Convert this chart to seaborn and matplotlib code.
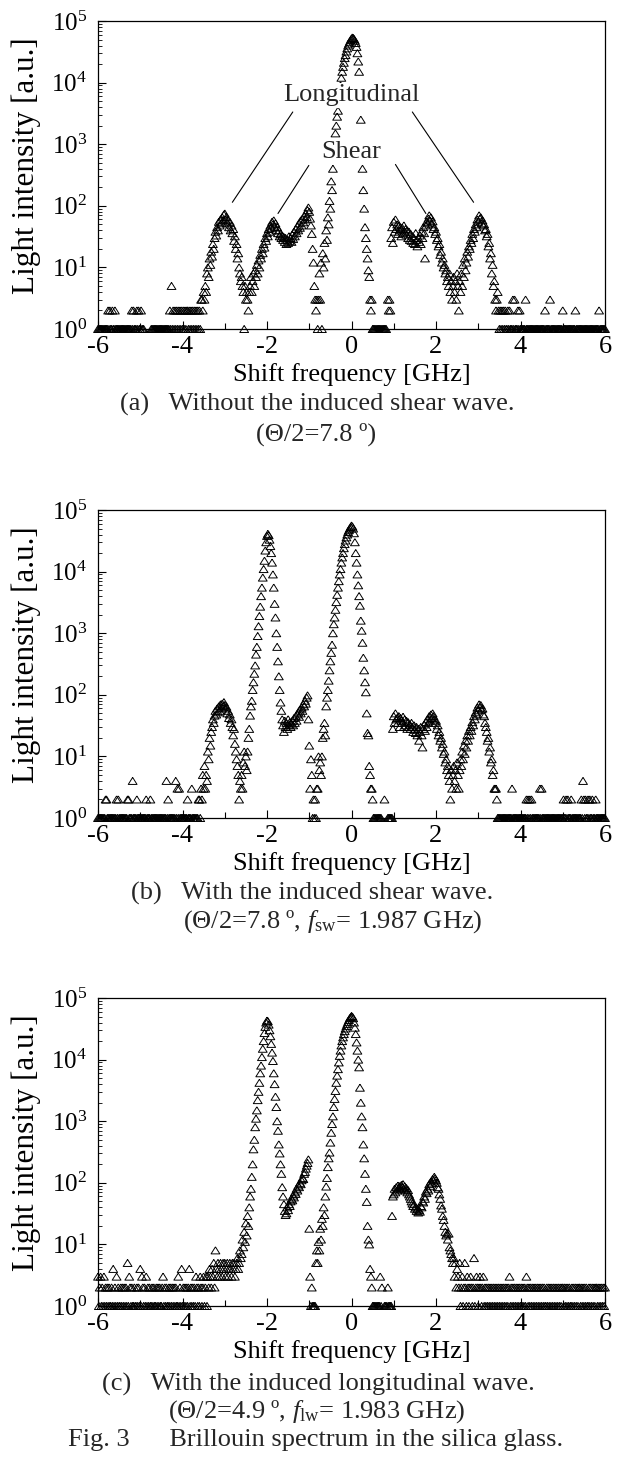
import numpy as np
import pandas as pd
import matplotlib
matplotlib.use("Agg")
import matplotlib.pyplot as plt
import seaborn as sns
from matplotlib.ticker import LogLocator, MultipleLocator, NullFormatter

sns.set_theme(style="ticks")
plt.rcParams['font.family'] = ['Liberation Serif', 'DejaVu Serif']
plt.rcParams['mathtext.fontset'] = 'custom'
plt.rcParams['mathtext.rm'] = 'Liberation Serif'
plt.rcParams['mathtext.it'] = 'Liberation Serif:italic'
plt.rcParams['mathtext.bf'] = 'Liberation Serif:bold'
plt.rcParams['axes.unicode_minus'] = False

# ---------------- data ----------------
FREQ_STEP = 0.02  # spectrometer frequency step [GHz]
shift_ghz = np.round(np.arange(-6.0, 6.0 + FREQ_STEP / 2, FREQ_STEP), 2)

# (a) without the induced shear wave
intensity_a = [
    1,1,1,1,1,1,1,1,1,1, 1,1,2,1,2,1,1,2,1,1, 2,1,1,1,1,1,1,1,1,1, 1,1,1,1,1,1,1,1,1,1,
    2,1,2,1,1,1,2,1,2,1, 1,2,1,1,1,0,0,0,0,0, 0,0,0,1,1,1,1,1,1,1, 1,1,1,1,1,1,1,1,1,1,
    1,1,1,1,1,2,1,5,1,2, 1,2,1,2,1,2,1,2,1,2, 1,2,1,2,1,2,2,1,2,1, 2,1,2,1,2,1,2,1,2,1,
    2,1,3,3,2,4,3,5,4,8, 10,7,14,11,18,15,24,20,30,38, 33,45,40,55,48,60,52,65,58,72,
    75,60,66,52,58,45,55,40,48,36, 42,27,32,20,24,14,17,10,8,6, 7,5,4,1,5,3,4,3,2,4,
    5,7,4,6,8,5,9,7,11,8, 13,10,16,14,20,17,24,21,30,27, 36,32,42,38,48,44,55,50,58,46,
    52,40,45,36,40,32,35,30,33,28, 31,26,30,24,28,25,32,27,30,26, 34,29,38,32,42,36,46,40,52,44,
    58,48,62,54,68,60,75,66,85,94, 80,62,48,35,20,12,5,3,2,3, 1,3,8,3,12,1,17,10,25,14,
    40,28,65,50,120,90,250,180,400,600,
    900,1500,2000,2800,3500,5000,7000,9000,12000,15000,
    18000,21000,25000,28000,32000,36000,40000,43000,46000,49000,
    52000,54000,53000,51000,48000,44000,38000,30000,22000,15000,
    6000,2500,1000,400,180,90,45,30,20,14,
    9,7,3,2,3,1,1,1,1,1, 1,1,1,1,1,1,1,1,1,1, 1,1,0,3,2,3,2,30,45,25,
    55,38,60,42,50,35,48,40,45,32, 44,36,48,38,42,34,40,30,38,28, 35,27,32,25,30,24,36,28,22,30,
    26,33,24,38,30,45,36,14,48,55, 52,62,70,58,65,50,56,42,45,35, 38,28,30,22,24,16,18,12,14,10,
    11,8,9,6,7,5,8,4,6,3, 5,7,4,6,3,8,5,2,6,4, 8,5,11,7,14,9,12,18,15,22,
    20,28,25,35,30,42,38,50,45,60, 55,70,62,65,52,58,48,50,40,42, 32,35,22,25,14,17,8,11,5,6,
    3,2,3,4,2,1,2,1,2,1, 2,1,2,1,1,2,1,2,1,1, 1,3,1,3,1,1,1,2,1,2,
    1,1,1,1,1,1,3,1,1,1, 1,1,1,1,1,1,1,1,1,1, 1,1,1,1,1,1,1,1,1,2,
    1,1,1,1,1,3,1,1,1,1, 1,1,1,1,1,1,1,1,1,1, 2,1,1,1,1,1,1,1,1,1,
    1,1,1,1,1,2,1,1,1,1, 1,1,1,1,1,1,1,1,1,1, 1,1,1,1,1,1,1,1,1,1,
    1,1,1,2,1,1,1,1,1,1, 1,
]

# (b) with the induced shear wave
intensity_b = [
    1,1,1,1,1,1,1,1,1,2, 2,1,1,1,1,1,1,1,1,1, 1,1,2,1,2,1,1,1,1,1, 1,1,1,1,1,2,2,1,1,1,
    1,4,1,1,1,1,2,1,1,1, 1,1,1,1,1,1,1,2,1,1, 1,1,2,1,1,1,1,1,1,1, 1,1,1,1,1,1,1,1,1,1,
    1,4,1,2,1,1,1,1,1,1, 1,1,4,1,3,1,3,1,1,1, 1,1,1,1,1,1,2,1,1,1, 1,3,1,1,1,1,1,1,1,2,
    2,1,3,2,5,3,7,3,5,4, 12,9,20,15,25,30,40,35,46,55, 48,60,52,65,55,70,62,72,66,76,
    68,60,64,50,55,42,48,35,40,30, 22,28,16,12,9,7,5,2,4,3, 5,3,8,12,7,10,6,12,20,28,
    46,65,80,120,160,220,300,450,600,900,
    1300,1900,2700,4000,5500,8000,11000,15000,22000,30000,
    38000,41000,39000,33000,26000,20000,14000,9000,5500,3000,
    1800,1000,600,350,200,120,75,55,40,32,
    25,38,30,35,28,40,32,36,30,34, 38,32,42,35,45,38,48,52,44,58, 50,62,55,70,65,80,72,90,98,40,
    15,3,9,5,1,2,1,2,1,3, 3,10,6,8,5,10,20,28,35,22,
    65,90,120,170,250,350,480,650,1000,1400,
    1800,2400,3200,4200,5500,7000,9000,11000,14000,17000,
    20000,24000,28000,32000,36000,40000,44000,47000,50000,53000,
    56000,54000,50000,42000,30000,20000,14000,9000,6000,4000,
    2800,1600,1100,700,400,250,160,110,50,24,
    22,7,5,3,3,2,1,1,1,1, 1,1,1,1,1,1,0,0,0,2, 0,0,0,1,1,1,1,1,1,28,
    45,35,50,40,42,35,45,30,42,38, 35,44,30,40,32,38,28,36,30,33, 28,35,30,25,32,27,24,30,22,28,
    18,25,30,22,14,28,33,26,36,30, 40,35,45,38,48,42,50,45,40,35, 38,28,32,22,25,18,20,14,16,11,
    12,8,9,6,7,5,4,2,6,3, 5,7,4,6,3,8,5,3,6,9, 7,12,9,15,11,18,14,22,18,26,
    22,30,26,36,32,45,40,52,48,62, 56,70,62,68,58,60,48,45,35,30, 25,18,20,12,14,8,9,5,6,3,
    3,3,2,1,1,1,1,1,1,1, 1,1,1,1,1,1,1,1,1,1, 3,1,1,1,1,1,1,1,1,1,
    1,1,1,1,1,1,1,2,1,2, 1,2,1,2,1,1,1,1,1,1, 1,1,1,3,1,3,1,1,1,1,
    1,1,1,1,1,1,1,1,1,1, 1,1,1,1,1,1,1,1,1,1, 1,2,1,1,2,1,2,1,1,1,
    2,1,1,1,1,1,1,1,1,1, 1,1,2,1,4,2,1,2,1,1, 2,1,2,1,1,2,1,1,1,2,
    1,1,1,1,1,1,1,1,1,1, 1,
]

# (c) with the induced longitudinal wave
intensity_c = [
    3,1,2,3,1,2,1,3,1,2, 1,2,1,2,1,1,2,1,4,1, 2,1,3,1,2,1,1,2,1,2, 1,2,1,2,1,5,1,3,2,1,
    2,1,1,2,1,1,2,1,2,1, 4,1,3,2,1,2,1,3,1,2, 1,2,1,1,2,1,2,1,1,2, 1,2,1,2,1,1,2,3,1,2,
    1,2,1,1,2,1,2,1,2,1, 2,1,2,1,1,3,1,2,1,4, 1,2,1,2,1,2,1,2,4,1, 2,1,2,1,2,1,3,2,1,2,
    1,3,2,1,2,3,1,2,3,1, 3,2,4,3,2,4,3,5,2,8, 4,3,5,4,3,5,4,3,5,4,
    5,3,4,5,3,4,5,4,3,5, 4,5,3,4,5,6,4,5,8,6, 7,12,9,16,11,22,14,29,20,40,
    60,80,125,200,350,500,800,1100,1500,2200,
    3000,4200,6000,8000,11000,15000,20000,27000,34000,40000,
    43000,42000,37000,30000,24000,18000,13000,9500,6000,4000,
    2500,1700,1000,700,420,300,200,140,85,60,
    45,35,30,32,40,36,45,42,50,55, 52,62,58,70,66,80,75,90,85,100,
    95,110,120,115,140,150,170,190,210,240,
    18,3,1,2,1,1,1,1,5,8, 5,11,8,18,12,26,20,40,30,60,
    87,120,180,250,310,450,650,900,1200,1700,
    2300,3100,4200,5500,7000,9000,11500,14000,17000,20000,
    23000,26000,29000,32000,35000,38000,41000,44000,47000,49000,
    51000,50000,47000,40000,33000,26000,19000,14000,10000,7500,
    3500,2000,1200,800,420,250,140,80,49,20,
    12,10,4,3,2,1,1,1,1,1, 1,1,1,1,3,1,2,0,0,1, 1,1,1,2,1,1,1,1,29,60,
    65,80,70,85,75,90,82,88,78,92, 85,95,80,88,75,82,70,76,65,60, 55,50,46,42,45,38,40,35,38,33,
    36,34,42,40,50,48,60,55,72,68, 80,75,95,88,105,98,115,110,125,118, 110,100,85,80,65,55,43,38,29,25,
    20,16,14,15,12,15,9,8,7,6, 5,6,3,5,2,4,3,2,5,1, 2,3,1,2,5,2,1,3,2,1,
    2,3,2,1,2,6,1,2,3,2, 1,2,3,2,1,2,3,1,2,1, 2,1,2,1,2,1,2,1,2,1,
    2,1,2,1,2,1,2,1,2,1, 2,1,2,1,2,1,2,3,1,2, 1,2,1,2,1,2,1,2,1,2,
    1,2,1,2,1,2,1,3,2,1, 2,1,2,1,2,1,2,1,2,1, 2,1,2,1,2,1,2,1,2,1,
    1,2,1,2,1,2,1,2,1,2, 1,2,1,2,1,2,1,2,1,2, 2,1,2,1,2,1,2,1,2,1,
    1,2,1,2,1,2,1,2,1,2, 2,1,2,1,2,1,2,1,2,1, 1,2,1,2,1,2,1,2,1,2,
    2,1,2,1,2,1,2,1,2,1, 2,
]

x_ticks = [-6, -4, -2, 0, 2, 4, 6]
x_label = "Shift frequency [GHz]"
y_label = "Light intensity [a.u.]"
captions = [
    ("(a)   Without the induced shear wave.", "(\u0398/2=7.8 \u00ba)"),
    ("(b)   With the induced shear wave.", "(\u0398/2=7.8 \u00ba, $f_{\\mathrm{sw}}$= 1.987 GHz)"),
    ("(c)   With the induced longitudinal wave.", "(\u0398/2=4.9 \u00ba, $f_{\\mathrm{lw}}$= 1.983 GHz)"),
]
fig_caption = "Fig. 3      Brillouin spectrum in the silica glass."

# ---------------- layout ----------------
W, H = 625, 1472
fig = plt.figure(figsize=(W / 100, H / 100), dpi=100)
fig.patch.set_facecolor("white")

LEFT, RIGHT = 98, 605
frames = [(21, 329), (510, 818), (998, 1306)]
cap_y = [(404, 434), (893, 922), (1384, 1412)]
cap_x = [(317, 316), (312, 333), (318, 317)]
FS = 19

tri = [(0, 0.8), (-1, -0.8), (1, -0.8), (0, 0.8)]

series = [intensity_a, intensity_b, intensity_c]
for k, (vals, (top, bot)) in enumerate(zip(series, frames)):
    ax = fig.add_axes([LEFT / W, 1 - bot / H, (RIGHT - LEFT) / W, (bot - top) / H])
    df = pd.DataFrame({"shift": shift_ghz, "intensity": np.asarray(vals, float)})
    df = df[df["intensity"] > 0]
    sns.scatterplot(data=df, x="shift", y="intensity", ax=ax, marker=tri, s=40,
                    facecolor="none", edgecolor="black", linewidth=0.7,
                    legend=False, clip_on=False, zorder=2)
    coll = ax.collections[-1]
    coll.set_facecolor("none")
    coll.set_edgecolor("black")
    coll.set_linewidth(0.7)

    ax.set_yscale("log")
    ax.set_xlim(-6, 6)
    ax.set_ylim(1, 1e5)
    ax.set_xticks(x_ticks)
    ax.xaxis.set_minor_locator(MultipleLocator(1))
    ax.yaxis.set_major_locator(LogLocator(base=10, numticks=10))
    ax.yaxis.set_minor_locator(LogLocator(base=10, subs=np.arange(2, 10), numticks=20))
    ax.yaxis.set_minor_formatter(NullFormatter())
    ax.tick_params(axis="both", which="both", direction="in", top=False, right=False,
                   color="black", labelcolor="black")
    ax.tick_params(axis="x", which="major", length=6, width=0.8, pad=5, labelsize=FS)
    ax.tick_params(axis="x", which="minor", length=4.5, width=0.8)
    ax.tick_params(axis="y", which="major", length=6, width=0.8, pad=8, labelsize=FS - 1)
    ax.tick_params(axis="y", which="minor", length=3, width=0.6)
    for sp in ax.spines.values():
        sp.set_color("black")
        sp.set_linewidth(0.9)
        sp.set_visible(True)
    ax.set_xlabel(x_label, fontsize=FS, labelpad=4, color="black")
    ax.set_ylabel(y_label, fontsize=22.5, color="black")
    ax.yaxis.set_label_coords(-0.112, 0.53)
    ax.set_facecolor("white")

    c1, c2 = captions[k]
    fig.text(cap_x[k][0] / W, 1 - cap_y[k][0] / H, c1, ha="center", va="center", fontsize=FS)
    fig.text(cap_x[k][1] / W, 1 - cap_y[k][1] / H, c2, ha="center", va="center", fontsize=FS)

    if k == 0:
        line_kw = dict(arrowstyle="-", lw=0.8, color="black", shrinkA=0, shrinkB=0)
        ax.annotate("", xy=(-2.82, 114), xytext=(-1.39, 3335), arrowprops=line_kw)
        ax.annotate("", xy=(2.89, 114), xytext=(1.44, 3335), arrowprops=line_kw)
        ax.annotate("", xy=(-1.74, 75), xytext=(-1.01, 452), arrowprops=line_kw)
        ax.annotate("", xy=(1.76, 75), xytext=(1.04, 469), arrowprops=line_kw)
        ax.text(0.0, 6240, "Longitudinal", ha="center", va="center", fontsize=FS, zorder=5,
                bbox=dict(fc="white", ec="none", pad=1))
        ax.text(0.0, 745, "Shear", ha="center", va="center", fontsize=FS, zorder=5,
                bbox=dict(fc="white", ec="none", pad=1))

fig.text(316 / W, 1 - 1440 / H, fig_caption, ha="center", va="center", fontsize=FS)

fig.savefig("out.png", dpi=100, facecolor="white")
